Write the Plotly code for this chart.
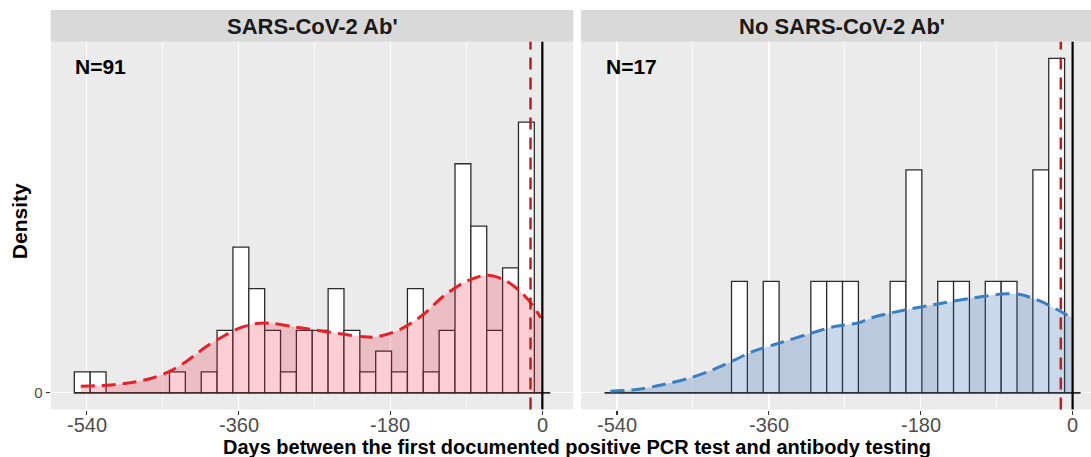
import plotly.graph_objects as go

# ---------------- data ----------------
panels = ["SARS-CoV-2 Ab'", "No SARS-CoV-2 Ab'"]
n_labels = ["N=91", "N=17"]
n_total = [91, 17]

bin_start = -554.7          # left edge of first histogram bin (days)
bin_width = 18.8            # histogram bin width (days)

counts_ab = [1, 1, 0, 0, 0, 0, 1, 0, 1, 3, 7, 5, 3, 1, 3, 3, 5, 3, 1, 2,
             1, 5, 1, 3, 11, 8, 3, 6, 13, 0]
counts_noab = [0, 0, 0, 0, 0, 0, 0, 0, 1, 0, 1, 0, 0, 1, 1, 1, 0, 0, 1, 2,
               0, 1, 1, 0, 1, 1, 0, 2, 3, 0]

dens_x_ab = [-547.1, -516.3, -484.8, -461.1, -441.3, -421.5, -397.8, -378.1,
             -358.3, -338.5, -318.8, -299.0, -279.2, -251.6, -212.2, -196.3,
             -168.7, -141.0, -117.3, -89.6, -65.9, -46.2, -26.4, -10.7, -1.9]
dens_y_ab = [0.185e-3, 0.213e-3, 0.298e-3, 0.421e-3, 0.606e-3, 0.887e-3,
             1.308e-3, 1.589e-3, 1.825e-3, 1.945e-3, 1.945e-3, 1.870e-3,
             1.797e-3, 1.701e-3, 1.572e-3, 1.572e-3, 1.777e-3, 2.198e-3,
             2.712e-3, 3.133e-3, 3.301e-3, 3.181e-3, 2.852e-3, 2.431e-3,
             2.105e-3]

dens_x_noab = [-547.9, -516.3, -484.8, -453.1, -425.5, -401.8, -378.1, -346.4,
               -314.8, -283.3, -253.6, -235.9, -196.3, -156.8, -117.3, -77.8,
               -62.0, -38.3, -18.5, -0.7]
dens_y_noab = [0.045e-3, 0.093e-3, 0.233e-3, 0.421e-3, 0.654e-3, 0.907e-3,
               1.168e-3, 1.404e-3, 1.637e-3, 1.853e-3, 1.965e-3, 2.122e-3,
               2.338e-3, 2.507e-3, 2.667e-3, 2.779e-3, 2.760e-3, 2.571e-3,
               2.338e-3, 2.105e-3]

x_ticks = [-540, -360, -180, 0]
x_tick_labels = ["-540", "-360", "-180", "0"]
ref_line_day = -14
zero_day = 0

# ---------------- styling ----------------
W, H = 1091, 457
FONT = "Liberation Sans, Arial, sans-serif"
panel_px = [(50.7, 573.3), (581.0, 1091.0)]
panel_top_px, panel_bot_px = 41.7, 409.5
strip_top_px = 10.0
x_ranges = [[-582.7, 36.7], [-582.7, 21.8]]
y_range = [-4.69e-4, 9.856e-3]

line_cols = ["#E4222A", "#3A7FC1"]
fill_cols = ["rgba(235,30,60,0.22)", "rgba(40,100,170,0.25)"]


def px_x(p):
    return p / W


def px_y(p):
    return (H - p) / H


fig = go.Figure()

series = [
    (counts_ab, dens_x_ab, dens_y_ab),
    (counts_noab, dens_x_noab, dens_y_noab),
]

for i, (counts, dx, dy) in enumerate(series):
    xa = "x" if i == 0 else "x2"
    ya = "y" if i == 0 else "y2"
    centers = [bin_start + bin_width * (k + 0.5) for k in range(len(counts))]
    dens = [c / (n_total[i] * bin_width) for c in counts]
    fig.add_trace(go.Bar(
        x=centers, y=dens, width=bin_width,
        marker=dict(color="white", line=dict(color="#2B2B2B", width=1.3)),
        xaxis=xa, yaxis=ya, showlegend=False, hoverinfo="skip"))
    edges = [bin_start, bin_start + bin_width * len(counts)]
    fig.add_trace(go.Scatter(
        x=edges, y=[0, 0], mode="lines",
        line=dict(color="#2B2B2B", width=1.4),
        xaxis=xa, yaxis=ya, showlegend=False, hoverinfo="skip"))
    fig.add_trace(go.Scatter(
        x=dx, y=dy, mode="lines",
        line=dict(color=line_cols[i], width=3, dash="14px,7px",
                  shape="spline", smoothing=0.9),
        fill="tozeroy", fillcolor=fill_cols[i],
        xaxis=xa, yaxis=ya, showlegend=False, hoverinfo="skip"))

shapes = []
annotations = []
for i in range(2):
    xa = "x" if i == 0 else "x2"
    ya_dom = "y domain" if i == 0 else "y2 domain"
    x0p, x1p = panel_px[i]
    # strip
    shapes.append(dict(type="rect", xref="paper", yref="paper",
                       x0=px_x(x0p), x1=px_x(x1p),
                       y0=px_y(panel_top_px), y1=px_y(strip_top_px),
                       fillcolor="#D9D9D9", line=dict(width=0)))
    # reference lines
    shapes.append(dict(type="line", xref=xa, yref=ya_dom,
                       x0=ref_line_day, x1=ref_line_day, y0=0, y1=1,
                       line=dict(color="#B22222", width=2.5, dash="12px,8px")))
    shapes.append(dict(type="line", xref=xa, yref=ya_dom,
                       x0=zero_day, x1=zero_day, y0=0, y1=1,
                       line=dict(color="black", width=2.2)))
    # strip label
    cx = (x0p + 1103.6) / 2 if i == 1 else (x0p + x1p) / 2
    annotations.append(dict(text="<b>%s</b>" % panels[i], xref="paper", yref="paper",
                            x=px_x(cx), y=px_y(26.5), xanchor="center", yanchor="middle",
                            showarrow=False, font=dict(family=FONT, size=22, color="#1A1A1A")))
    # N label
    annotations.append(dict(text="<b>%s</b>" % n_labels[i], xref=xa, yref="y" if i == 0 else "y2",
                            x=-556, y=9.17e-3, xanchor="left", yanchor="middle",
                            showarrow=False, font=dict(family=FONT, size=21, color="black")))
    # x tick labels, positioned on the axis scale
    for tv, tt in zip(x_ticks, x_tick_labels):
        annotations.append(dict(text=tt, xref=xa, yref="paper", x=tv, y=px_y(424.5),
                                xanchor="center", yanchor="middle", showarrow=False,
                                font=dict(family=FONT, size=20, color="#4D4D4D")))

annotations.append(dict(
    text="<b>Days between the first documented positive PCR test and antibody testing</b>",
    xref="paper", yref="paper", x=px_x(577), y=px_y(447),
    xanchor="center", yanchor="middle", showarrow=False,
    font=dict(family=FONT, size=20, color="black")))
annotations.append(dict(
    text="<b>Density</b>", xref="paper", yref="paper", x=px_x(19.5), y=px_y(221.7),
    xanchor="center", yanchor="middle", textangle=-90, showarrow=False,
    font=dict(family=FONT, size=21, color="black")))

xaxis_common = dict(
    tickmode="array", tickvals=x_ticks, ticktext=x_tick_labels,
    showticklabels=False,
    showgrid=True, gridcolor="white", gridwidth=1.3,
    minor=dict(tickmode="array", tickvals=[-450, -270, -90], showgrid=True,
               gridcolor="white", gridwidth=0.7),
    ticks="outside", ticklen=4, tickwidth=1.1, tickcolor="#333333",
    zeroline=False, showline=False, fixedrange=True,
)
yaxis_common = dict(
    range=y_range, tickmode="array", tickvals=[0], ticktext=["0"],
    showgrid=True, gridcolor="white", gridwidth=1.3,
    zeroline=False, showline=False, fixedrange=True,
    domain=[px_y(panel_bot_px), px_y(panel_top_px)],
)

fig.update_layout(
    width=W, height=H, autosize=False,
    margin=dict(l=0, r=0, t=0, b=0),
    paper_bgcolor="white", plot_bgcolor="#EBEBEB",
    showlegend=False, bargap=0,
    xaxis=dict(domain=[px_x(panel_px[0][0]), px_x(panel_px[0][1])],
               range=x_ranges[0], anchor="y", **xaxis_common),
    xaxis2=dict(domain=[px_x(panel_px[1][0]), px_x(panel_px[1][1])],
                range=x_ranges[1], anchor="y2", **xaxis_common),
    yaxis=dict(anchor="x", ticks="outside", ticklen=4, tickwidth=1.1,
               tickcolor="#333333",
               tickfont=dict(family=FONT, size=15, color="#4D4D4D"),
               **yaxis_common),
    yaxis2=dict(anchor="x2", showticklabels=False, ticks="", **yaxis_common),
    shapes=shapes, annotations=annotations,
)

fig.write_html(
    "out.html",
    config={"displayModeBar": False, "staticPlot": True},
    post_script="document.body.style.margin='0px';document.body.style.overflow='hidden';",
)
